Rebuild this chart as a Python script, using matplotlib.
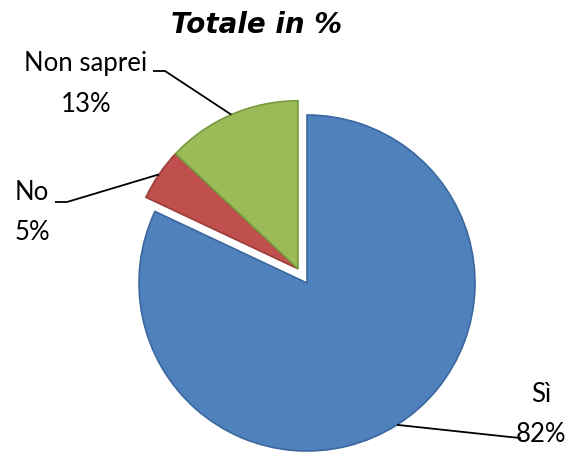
import numpy as np
import matplotlib
matplotlib.use("Agg")
import matplotlib.pyplot as plt

# survey answers, share of total in %
labels = ["Sì", "No", "Non saprei"]
values = [82, 5, 13]
colors = ["#4F81BD", "#C0504D", "#9BBB59"]
edges = ["#3A679E", "#9B3D3A", "#789A3F"]

W, H = 582, 454
CX, CY, R = 307, 283, 168   # pie centre and radius in pixels


def px(x, y):
    # pixel position -> data position (1 unit = pie radius)
    return (x - CX) / R, (CY - y) / R


fig = plt.figure(figsize=(W / 100, H / 100), dpi=100)
ax = fig.add_axes([0, 0, 1, 1])

wedges, _ = ax.pie(values, colors=colors, startangle=90, counterclock=False,
                   radius=1, wedgeprops=dict(linewidth=1.2))
for w, ec in zip(wedges, edges):
    w.set_edgecolor(ec)

ax.set_aspect("auto")
ax.set_xlim(-CX / R, (W - CX) / R)
ax.set_ylim((CY - H) / R, CY / R)
ax.axis("off")

# pull "No" and "Non saprei" out together as one block
mid = np.deg2rad(90 + (values[1] + values[2]) * 3.6 / 2)
off = 0.1 * np.array([np.cos(mid), np.sin(mid)])
for w in wedges[1:]:
    w.set_center(tuple(off))

# leader lines from each wedge's mid angle to its label
label_pos = {"Sì": (541, 415), "No": (32, 213), "Non saprei": (86, 84)}
elbows = {"Sì": [(510, 437), (521, 438)],
          "No": [(67, 202), (55, 202)],
          "Non saprei": [(165, 71), (153, 71)]}

acc = 0
for w, lab, v in zip(wedges, labels, values):
    a = np.deg2rad(90 - (acc + v / 2) * 3.6)
    acc += v
    cx, cy = w.center
    p0 = (cx + np.cos(a), cy + np.sin(a))
    pts = [p0] + [px(*e) for e in elbows[lab]]
    ax.plot([p[0] for p in pts], [p[1] for p in pts], color="black", lw=1.3,
            solid_capstyle="butt")
    tx, ty = px(*label_pos[lab])
    ax.text(tx, ty, f"{lab}\n{v}%", ha="center", va="center", fontsize=18.5,
            family="Lato", linespacing=1.75)

tx, ty = px(257, 33)
ax.text(tx, ty, "Totale in %", ha="center", va="baseline", fontsize=20,
        fontweight="bold", fontstyle="italic", family="DejaVu Sans")

fig.savefig("out.png", dpi=100)
